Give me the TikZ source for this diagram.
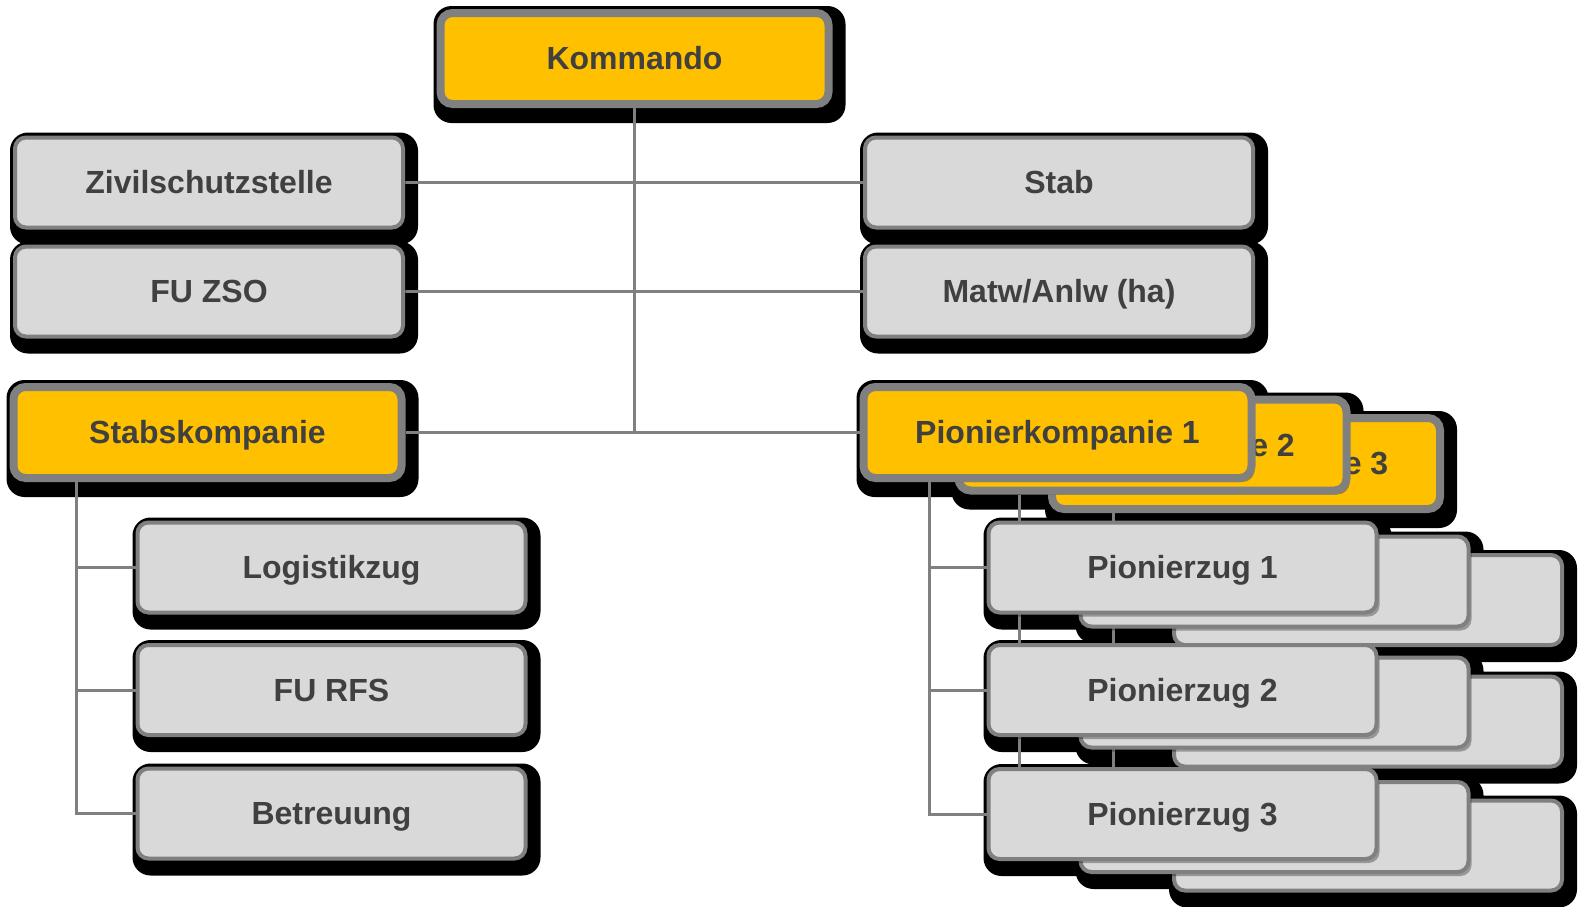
\documentclass[tikz,border=0pt]{standalone}
\usepackage{fontspec}
\setmainfont{Liberation Sans}
\usetikzlibrary{shadows}
\definecolor{boxyellow}{HTML}{FFC000}
\definecolor{boxgrey}{HTML}{D9D9D9}
\definecolor{bordergrey}{HTML}{808080}
\definecolor{txtgrey}{HTML}{404040}
\pgfdeclarelayer{bglayer}
\pgfdeclarelayer{shadowlayer}
\pgfdeclarelayer{linelayer}
\pgfsetlayers{bglayer,shadowlayer,linelayer,main}
\tikzset{
  basebox/.style={rectangle, draw=bordergrey, text=txtgrey, align=center,
    font=\fontsize{32}{38}\selectfont\bfseries, inner sep=0pt,
    text height=22pt, text depth=0pt,
    drop shadow={shadow xshift=3pt, shadow yshift=-4pt, fill=black, opacity=0.3}},
  ybox/.style={basebox, fill=boxyellow, line width=8pt, rounded corners=12pt,
    minimum width=388pt, minimum height=91pt},
  gbox/.style={basebox, fill=boxgrey, line width=4pt, rounded corners=11pt,
    minimum width=388pt, minimum height=90pt},
  conn/.style={draw=bordergrey, line width=3pt},
}
\newcommand{\obox}[4]{%
  \node[#1] (#2) at (#3) {#4};
  \begin{pgfonlayer}{shadowlayer}
    \fill[black, rounded corners=18pt] ([shift={(-3pt,3pt)}]#2.north west) rectangle ([shift={(13pt,-15pt)}]#2.south east);
  \end{pgfonlayer}
}
\begin{document}
\begin{tikzpicture}[x=1pt,y=-1pt]
\begin{pgfonlayer}{bglayer}
  \fill[white] (0,0) rectangle (1580,906);
\end{pgfonlayer}
\useasboundingbox (0,0) rectangle (1580,906);
% back layers (stack c, then b)
\obox{ybox}{pk3}{1246,463.5}{Pionierkompanie 3}
\obox{gbox}{pz1c}{1368,600}{}
\obox{gbox}{pz2c}{1368,721.5}{}
\obox{gbox}{pz3c}{1368,845.5}{}
\obox{ybox}{pk2}{1152.5,445}{Pionierkompanie 2}
\obox{gbox}{pz1b}{1274.5,581.5}{}
\obox{gbox}{pz2b}{1274.5,702.5}{}
\obox{gbox}{pz3b}{1274.5,827}{}
% front boxes
\obox{ybox}{kom}{634.5,58.5}{Kommando}
\obox{gbox}{zivil}{209,182.5}{Zivilschutzstelle}
\obox{gbox}{fuzso}{209,291.5}{FU ZSO}
\obox{gbox}{stab}{1059,182.5}{Stab}
\obox{gbox}{matw}{1059,291.5}{Matw/Anlw (ha)}
\obox{ybox}{stabsk}{207.5,432.5}{Stabskompanie}
\obox{ybox}{pk1}{1057.5,432.5}{Pionierkompanie 1}
\obox{gbox}{logi}{331.5,567.5}{Logistikzug}
\obox{gbox}{furfs}{331.5,690}{FU RFS}
\obox{gbox}{betr}{331.5,813.5}{Betreuung}
\obox{gbox}{pz1}{1182.5,567.5}{Pionierzug 1}
\obox{gbox}{pz2}{1182.5,690}{Pionierzug 2}
\obox{gbox}{pz3}{1182.5,814}{Pionierzug 3}
% connectors
\begin{pgfonlayer}{linelayer}
  \draw[conn] (kom.south) -- (kom.south |- stabsk.east);
  \draw[conn] (zivil.east) -- (stab.west);
  \draw[conn] (fuzso.east) -- (matw.west);
  \draw[conn] (stabsk.east) -- (pk1.west);
  \coordinate (sv) at ([xshift=67pt]stabsk.south west);
  \draw[conn] (sv) |- (logi.west);
  \draw[conn] (sv) |- (furfs.west);
  \draw[conn] (sv) |- (betr.west);
  \coordinate (pv1) at ([xshift=70pt]pk1.south west);
  \draw[conn] (pv1) |- (pz1.west);
  \draw[conn] (pv1) |- (pz2.west);
  \draw[conn] (pv1) |- (pz3.west);
  \coordinate (pv2) at ([xshift=65pt]pk2.south west);
  \draw[conn] (pv2) |- (pz1b.west);
  \draw[conn] (pv2) |- (pz2b.west);
  \draw[conn] (pv2) |- (pz3b.west);
  \coordinate (pv3) at ([xshift=65pt]pk3.south west);
  \draw[conn] (pv3) |- (pz1c.west);
  \draw[conn] (pv3) |- (pz2c.west);
  \draw[conn] (pv3) |- (pz3c.west);
\end{pgfonlayer}
\end{tikzpicture}
\end{document}
